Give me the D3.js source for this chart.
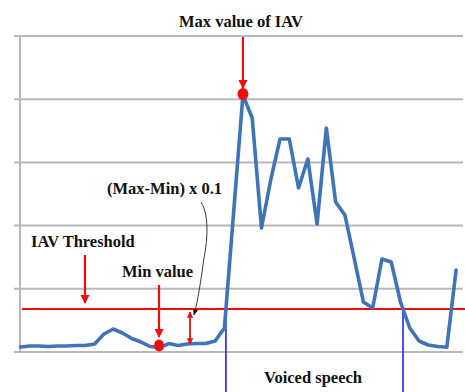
<!DOCTYPE html>
<html>
<head>
<meta charset="utf-8">
<script src="https://cdn.jsdelivr.net/npm/d3@7"></script>
<style>
  html, body { margin: 0; padding: 0; background: #fff; }
  svg { display: block; }
  text { font-family: "Liberation Serif", "Times New Roman", serif; font-weight: bold; fill: #111; }
</style>
</head>
<body>
<svg id="chart" width="465" height="392"></svg>
<script>
// ---- data ----
const frames = d3.range(48);
const iav = [
  0.79, 0.95, 0.95, 0.87, 0.95, 0.95, 1.03, 1.03, 1.27, 2.85,
  3.64, 3.01, 2.14, 1.58, 0.87, 0.70, 1.34, 1.03, 1.27, 1.34,
  1.34, 1.74, 3.80, 22.15, 40.66, 37.03, 19.62, 27.22, 33.70, 33.70,
  25.95, 30.54, 20.25, 35.44, 23.73, 21.68, 14.87, 7.91, 6.96, 14.72,
  14.24, 7.91, 3.80, 1.74, 1.11, 0.87, 0.75, 12.97
];
const gridValues = [0, 10, 20, 30, 40, 50];
const threshold = 6.8;
const labels = {
  max: "Max value of IAV",
  delta: "(Max-Min) x 0.1",
  thr: "IAV Threshold",
  min: "Min value",
  voiced: "Voiced speech"
};

// ---- layout ----
const svg = d3.select("#chart");
const x = d3.scaleLinear().domain([0, 47]).range([20.5, 456.1]);
const y = d3.scaleLinear().domain([0, 50]).range([352, 36]);
const red = "#f20d0d";

// gridlines
svg.append("g").selectAll("line").data(gridValues).join("line")
  .attr("x1", 14).attr("x2", 463)
  .attr("y1", d => y(d)).attr("y2", d => y(d))
  .attr("stroke", "#b8b8b8").attr("stroke-width", 2);

// vertical axis
svg.append("line")
  .attr("x1", 20).attr("x2", 20)
  .attr("y1", y(50) - 1).attr("y2", y(0) + 1)
  .attr("stroke", "#b8b8b8").attr("stroke-width", 2);

// threshold crossings -> voiced segment (first rise, then first fall)
let vStart = null, vEnd = null;
for (let i = 0; i < iav.length - 1; i++) {
  const a = iav[i] - threshold, b = iav[i + 1] - threshold;
  const t = a / (a - b);
  if (vStart === null && a < 0 && b >= 0) vStart = i + t;
  else if (vStart !== null && vEnd === null && a >= 0 && b < 0) vEnd = i + t;
}

// blue voiced-speech markers
svg.append("g").selectAll("line").data([vStart, vEnd]).join("line")
  .attr("x1", d => x(d)).attr("x2", d => x(d))
  .attr("y1", y(threshold)).attr("y2", 392)
  .attr("stroke", "#2020ff").attr("stroke-width", 1.6);

// threshold line
svg.append("line")
  .attr("x1", 22).attr("x2", 465)
  .attr("y1", y(threshold)).attr("y2", y(threshold))
  .attr("stroke", red).attr("stroke-width", 2);

// IAV curve
svg.append("path")
  .datum(iav)
  .attr("fill", "none")
  .attr("stroke", "#3f74b8")
  .attr("stroke-width", 3.6)
  .attr("stroke-linejoin", "round")
  .attr("stroke-linecap", "round")
  .attr("d", d3.line().x((d, i) => x(i)).y(d => y(d)));

// arrow markers
const defs = svg.append("defs");
defs.append("marker").attr("id", "ahRed")
  .attr("viewBox", "0 0 10 10").attr("refX", 9).attr("refY", 5)
  .attr("markerWidth", 4.2).attr("markerHeight", 4.2).attr("markerUnits", "strokeWidth")
  .attr("orient", "auto-start-reverse")
  .append("path").attr("d", "M0,0 L10,5 L0,10 z").attr("fill", red);
defs.append("marker").attr("id", "ahRedS")
  .attr("viewBox", "0 0 10 10").attr("refX", 9).attr("refY", 5)
  .attr("markerWidth", 3.5).attr("markerHeight", 3.5).attr("markerUnits", "strokeWidth")
  .attr("orient", "auto-start-reverse")
  .append("path").attr("d", "M0,0 L10,5 L0,10 z").attr("fill", red);
defs.append("marker").attr("id", "ahBlk")
  .attr("viewBox", "0 0 10 10").attr("refX", 9).attr("refY", 5)
  .attr("markerWidth", 7).attr("markerHeight", 7).attr("markerUnits", "strokeWidth")
  .attr("orient", "auto")
  .append("path").attr("d", "M0,1 L10,5 L0,9 z").attr("fill", "#111");

// max / min points
const maxI = d3.maxIndex(iav), minI = d3.minIndex(iav.slice(0, 22));
svg.append("ellipse").attr("cx", x(maxI)).attr("cy", y(iav[maxI]) - 1)
  .attr("rx", 5.5).attr("ry", 6).attr("fill", red);
svg.append("ellipse").attr("cx", x(minI) - 0.5).attr("cy", y(iav[minI]) - 2)
  .attr("rx", 5).attr("ry", 6).attr("fill", red);

// red arrows
function redArrow(x0, y0, x1, y1, w, m) {
  return svg.append("line").attr("x1", x0).attr("y1", y0).attr("x2", x1).attr("y2", y1)
    .attr("stroke", red).attr("stroke-width", w).attr("marker-end", `url(#${m})`);
}
redArrow(x(maxI), 37, x(maxI), y(iav[maxI]) - 7, 2.2, "ahRed");
redArrow(85, 255, 85, 303, 2.2, "ahRed");
redArrow(x(minI) - 0.5, 285, x(minI) - 0.5, 337, 2.2, "ahRed");
svg.append("line").attr("x1", 190).attr("x2", 190)
  .attr("y1", y(threshold) + 3).attr("y2", 344)
  .attr("stroke", red).attr("stroke-width", 1.8)
  .attr("marker-start", "url(#ahRedS)").attr("marker-end", "url(#ahRedS)");

// black curved leader
svg.append("path")
  .attr("d", "M201,202 C209,214 208,238 204,258 C201,280 198,300 194,315")
  .attr("fill", "none").attr("stroke", "#222").attr("stroke-width", 0.9)
  .attr("marker-end", "url(#ahBlk)");

// texts
const fs = "16.5px";
svg.append("text").attr("x", 241).attr("y", 27).attr("text-anchor", "middle")
  .style("font-size", fs).text(labels.max);
svg.append("text").attr("x", 107).attr("y", 194)
  .style("font-size", fs).text(labels.delta);
svg.append("text").attr("x", 31).attr("y", 247)
  .style("font-size", fs).text(labels.thr);
svg.append("text").attr("x", 122).attr("y", 277)
  .style("font-size", fs).text(labels.min);
svg.append("text").attr("x", 313).attr("y", 383).attr("text-anchor", "middle")
  .style("font-size", fs).text(labels.voiced);
</script>
</body>
</html>
